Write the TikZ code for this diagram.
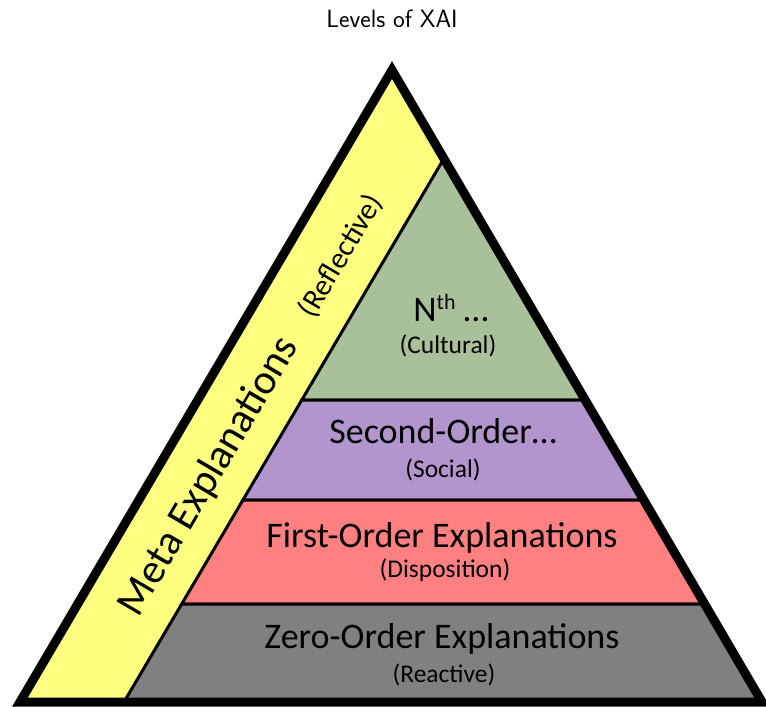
\documentclass[tikz,border=0pt]{standalone}
\usepackage{fontspec}
\setmainfont{Carlito}
\usepackage{tikz}
\usetikzlibrary{calc,positioning}
\definecolor{metayellow}{RGB}{255,255,128}
\definecolor{culturegreen}{RGB}{169,193,155}
\definecolor{socialpurple}{RGB}{179,149,206}
\definecolor{disposred}{RGB}{255,128,128}
\definecolor{reactgray}{RGB}{128,128,128}

\begin{document}
\begin{tikzpicture}[x=1pt,y=-1pt]
  \tikzstyle{layer} = [draw=black, line width=3pt, line join=miter]
  \tikzstyle{bigtext} = [font=\fontsize{36}{40}\selectfont, anchor=base, inner sep=0pt]
  \tikzstyle{subtext} = [font=\fontsize{25.5}{28}\selectfont, anchor=base, inner sep=0pt]
  \useasboundingbox (0,0) rectangle (766,707);

  \coordinate (apex) at (392,70);
  \coordinate (bl) at (20,702);
  \coordinate (br) at (762,702);
  \coordinate (d0) at (124,702);
  \coordinate (d1) at ($(d0)+(apex)-(bl)$);
  \coordinate (dtop) at (intersection of d0--d1 and apex--br);
  \coordinate (l1) at (intersection of d0--d1 and 0,400--766,400);
  \coordinate (r1) at (intersection of apex--br and 0,400--766,400);
  \coordinate (l2) at (intersection of d0--d1 and 0,500--766,500);
  \coordinate (r2) at (intersection of apex--br and 0,500--766,500);
  \coordinate (l3) at (intersection of d0--d1 and 0,604--766,604);
  \coordinate (r3) at (intersection of apex--br and 0,604--766,604);

  \fill[metayellow] (apex) -- (bl) -- (br) -- cycle;
  \filldraw[layer, fill=culturegreen] (dtop) -- (l1) -- (r1) -- cycle;
  \filldraw[layer, fill=socialpurple] (l1) -- (l2) -- (r2) -- (r1) -- cycle;
  \filldraw[layer, fill=disposred] (l2) -- (l3) -- (r3) -- (r2) -- cycle;
  \filldraw[layer, fill=reactgray] (l3) -- (d0) -- (br) -- (r3) -- cycle;
  \draw[line width=9pt, line join=miter] (apex) -- (bl) -- (br) -- cycle;

  \node[anchor=base, font=\fontsize{25}{28}\selectfont\sffamily] (title) at (392,27) {Levels of XAI};

  \node[bigtext] (nth) at (451,321) {N\raisebox{0.33em}{\fontsize{22}{24}\selectfont th}~…};
  \node[subtext] (cultural) at (448,353) {(Cultural)};
  \node[bigtext] (second) at (443,443) {Second-Order…};
  \node[subtext] (social) at (443,477) {(Social)};
  \node[bigtext] (first) at (442,547) {First-Order Explanations};
  \node[subtext] (dispos) at (445,577) {(Disposition)};
  \node[bigtext] (zero) at (442,648) {Zero-Order Explanations};
  \node[subtext] (reactive) at (444,682) {(Reactive)};

  \node[font=\fontsize{42}{46}\selectfont, anchor=base, inner sep=0pt, rotate=59.5] (meta) at (219,482) {Meta Explanations};
  \node[font=\fontsize{30}{33}\selectfont, inner sep=0pt, rotate=59.5] (reflect) at (341,256) {(Reflective)};
\end{tikzpicture}
\end{document}
